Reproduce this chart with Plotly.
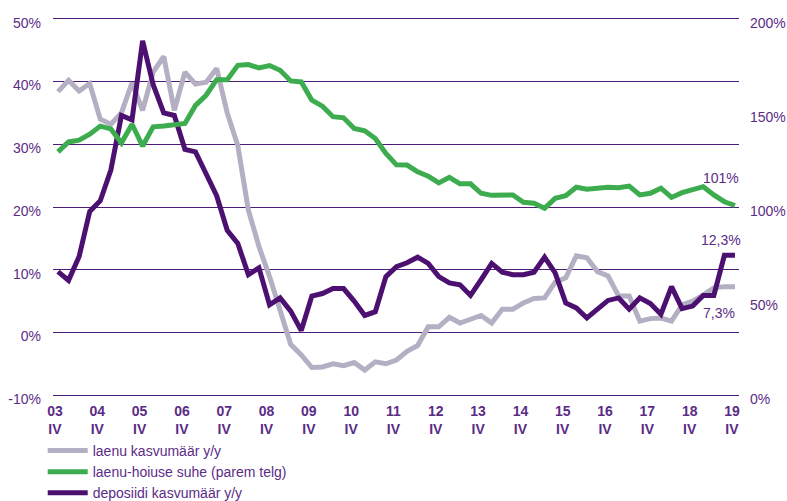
import plotly.graph_objects as go

# ---- data ----
years = list(range(2003, 2020))
quarters = ["2003Q4"] + [f"{y}Q{q}" for y in range(2004, 2020) for q in (1, 2, 3, 4)]
year_labels = [f"{y % 100:02d}" for y in years]
quarter_label = "IV"

loan_growth = [38.4, 40.2, 38.5, 39.7, 34.0, 33.2, 35.0, 39.8, 35.4, 41.5, 44.0, 35.4, 41.5,
               39.6, 39.9, 42.1, 35.0, 29.8, 19.5, 13.7, 8.9, 3.7, -1.9, -3.6, -5.6, -5.5,
               -5.0, -5.3, -4.8, -6.0, -4.7, -5.0, -4.4, -3.0, -2.1, 0.9, 0.9, 2.4, 1.5, 2.1,
               2.7, 1.5, 3.7, 3.7, 4.7, 5.4, 5.5, 8.0, 8.7, 12.2, 11.9, 9.7, 9.0, 5.8, 5.8,
               1.8, 2.2, 2.3, 1.8, 4.4, 5.0, 6.0, 7.1, 7.3, 7.3]

loan_deposit_ratio = [129.3, 134.6, 135.5, 138.7, 143.0, 141.5, 134.1, 144.0, 132.4, 142.6,
                      143.1, 143.9, 144.4, 154.0, 159.4, 167.7, 167.7, 175.3, 175.7, 173.9,
                      175.2, 172.7, 167.0, 166.5, 156.8, 153.6, 148.0, 147.4, 141.7, 140.5,
                      136.4, 128.5, 122.4, 122.3, 118.7, 116.4, 112.8, 115.8, 112.3, 112.3,
                      107.3, 106.2, 106.2, 106.4, 102.5, 102.0, 99.3, 104.6, 106.0, 110.5,
                      109.4, 110.0, 110.5, 110.2, 111.1, 106.4, 107.3, 110.0, 105.1, 107.6,
                      109.0, 110.8, 106.4, 102.8, 100.8]

deposit_growth = [9.7, 8.3, 12.1, 19.3, 21.0, 25.9, 34.6, 33.9, 46.5, 39.5, 35.0, 34.6, 29.2,
                  28.8, 25.3, 21.8, 16.3, 14.2, 9.2, 10.3, 4.4, 5.5, 3.4, 0.3, 5.8, 6.2, 7.0,
                  7.0, 5.0, 2.7, 3.3, 8.9, 10.5, 11.1, 12.0, 11.0, 8.9, 7.9, 7.6, 5.9, 8.4,
                  11.0, 9.6, 9.2, 9.2, 9.6, 12.0, 9.5, 4.7, 3.9, 2.3, 3.8, 5.1, 5.5, 3.7, 5.5,
                  4.6, 2.9, 7.3, 3.8, 4.2, 5.9, 5.9, 12.3, 12.3]

names = ["laenu kasvumäär y/y", "laenu-hoiuse suhe (parem telg)", "deposiidi kasvumäär y/y"]

left_ticks = [-10, 0, 10, 20, 30, 40, 50]
right_ticks = [0, 50, 100, 150, 200]

GRAY = "#b5afc4"
GREEN = "#3dac4f"
PURPLE = "#4c1170"
TEXT = "#5b2c86"
GRID = "#4e1d7c"
FONT = "Liberation Sans"
FS = 14

fig = go.Figure()
fig.add_trace(go.Scatter(x=quarters, y=loan_growth, name=names[0], mode="lines",
                         line=dict(color=GRAY, width=5)))
fig.add_trace(go.Scatter(x=quarters, y=loan_deposit_ratio, name=names[1], mode="lines",
                         yaxis="y2", line=dict(color=GREEN, width=5)))
fig.add_trace(go.Scatter(x=quarters, y=deposit_growth, name=names[2], mode="lines",
                         line=dict(color=PURPLE, width=5)))

# end labels
fig.add_annotation(x=quarters[-1], y=loan_deposit_ratio[-1], yref="y2", text="101%",
                   showarrow=False, xshift=-14, yshift=28, font=dict(size=FS, color=TEXT, family=FONT))
fig.add_annotation(x=quarters[-1], y=deposit_growth[-1], text="12,3%",
                   showarrow=False, xshift=-14, yshift=15, font=dict(size=FS, color=TEXT, family=FONT))
fig.add_annotation(x=quarters[-1], y=loan_growth[-1], text="7,3%",
                   showarrow=False, xshift=-16, yshift=-26, font=dict(size=FS, color=TEXT, family=FONT))

pad = 0.3                      # percentage points of headroom so edge gridlines are kept
px_per_pt = 377 / 60.0
fig.update_layout(
    width=787, height=501,
    margin=dict(l=53, r=48, t=18.5 - pad * px_per_pt,
                b=501 - 395.5 - pad * px_per_pt, autoexpand=False),
    paper_bgcolor="white", plot_bgcolor="white",
    font=dict(family=FONT, color=TEXT, size=FS),
    showlegend=True,
    legend=dict(x=-0.015, xref="paper", y=0.132, yref="container", xanchor="left", yanchor="top",
                orientation="v",
                font=dict(size=FS, color=TEXT, family=FONT), tracegroupgap=0,
                bgcolor="rgba(0,0,0,0)", itemwidth=40),
    xaxis=dict(type="category", range=[-0.47, 64.38],
               tickvals=[f"{y}Q4" for y in years],
               ticktext=[f"{yl}<br>{quarter_label}" for yl in year_labels],
               tickfont=dict(size=FS, color=TEXT, family=FONT, weight="bold"),
               showgrid=False, zeroline=False, showline=False, ticks="",
               ticklabelstandoff=4, ticklabelshift=-3, automargin=False),
    yaxis=dict(range=[-10 - pad, 50 + pad], tickvals=left_ticks,
               ticktext=[f"{v}%" for v in left_ticks],
               showgrid=True, gridcolor=GRID, gridwidth=1, zeroline=False,
               showline=False, ticks="", tickfont=dict(size=FS, color=TEXT, family=FONT),
               ticklabelstandoff=11, ticklabelshift=4, automargin=False),
    yaxis2=dict(range=[0 - pad * 10 / 3, 200 + pad * 10 / 3], tickvals=right_ticks,
                ticktext=[f"{v}%" for v in right_ticks],
                overlaying="y", side="right", showgrid=False, zeroline=False,
                showline=False, ticks="", tickfont=dict(size=FS, color=TEXT, family=FONT),
                ticklabelstandoff=10, ticklabelshift=4, automargin=False),
)

fig.write_html("out.html", config={"displayModeBar": False},
               post_script="document.body.style.margin='0';document.body.style.overflow='hidden';")
